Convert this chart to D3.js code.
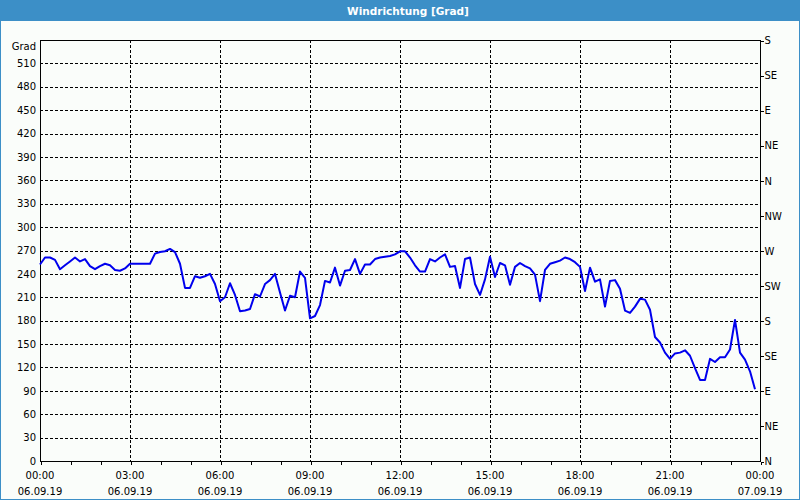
<!DOCTYPE html>
<html>
<head>
<meta charset="utf-8">
<script src="https://cdn.jsdelivr.net/npm/d3@7"></script>
<style>
  html, body { margin: 0; padding: 0; background: #fafdfa; }
  svg { display: block; }
</style>
</head>
<body>
<svg id="chart" width="800" height="500"></svg>
<script>
// ---- data ----
const chartTitle = "Windrichtung [Grad]";
const unitLabel = "Grad";
const startTime = "2019-09-06 00:00";
const endTime = "2019-09-07 00:00";
const stepMinutes = 10;
const windDirection = [
  252,261,261,258,246,251,256,261,256,259,
  250,246,250,253,251,245,244,247,253,253,
  253,253,253,266,268,269,272,268,253,222,
  222,237,235,237,240,227,205,210,228,213,
  192,193,195,214,211,227,232,240,216,193,
  212,210,243,235,183,186,200,231,229,248,
  225,244,245,259,240,252,252,259,261,262,
  263,265,269,269,261,251,243,243,259,256,
  261,265,249,250,222,259,261,227,213,233,
  262,236,254,251,226,249,254,250,247,239,
  205,245,253,255,257,261,259,255,249,218,
  248,230,233,198,231,232,221,193,190,198,
  208,207,194,159,152,139,131,138,139,142,
  135,119,104,104,131,127,133,133,143,181,
  139,130,115,92
];
const leftTicks = [0,30,60,90,120,150,180,210,240,270,300,330,360,390,420,450,480,510];
const rightTickValues = [0,45,90,135,180,225,270,315,360,405,450,495,540];
const rightTickLabels = ["N","NE","E","SE","S","SW","W","NW","N","NE","E","SE","S"];
const yDomain = [0, 540];

// ---- layout ----
const W = 800, H = 500;
const m = { left: 40, right: 760, top: 40, bottom: 461 };
const parse = d3.timeParse("%Y-%m-%d %H:%M");
const t0 = parse(startTime), t1 = parse(endTime);
const points = windDirection.map((v, i) => ({ t: d3.timeMinute.offset(t0, i * stepMinutes), v }));

const x = d3.scaleTime().domain([t0, t1]).range([m.left, m.right]);
const y = d3.scaleLinear().domain(yDomain).range([m.bottom, m.top]);

const svg = d3.select("#chart");
const font = "DejaVu Sans, Verdana, sans-serif";

svg.append("rect").attr("width", W).attr("height", H).attr("fill", "#fafdfa");

// title bar
svg.append("rect").attr("x", 0).attr("y", 0).attr("width", W).attr("height", 21).attr("fill", "#3c8fc7");
svg.append("text").attr("x", 408).attr("y", 14.5).attr("text-anchor", "middle")
  .attr("font-family", font).attr("font-size", 10.5).attr("font-weight", "bold")
  .attr("fill", "#fff").text(chartTitle);
// window border
svg.append("rect").attr("x", 0.5).attr("y", 0.5).attr("width", W - 1).attr("height", H - 1)
  .attr("fill", "none").attr("stroke", "#3c8fc7").attr("stroke-width", 1);

// grid
const grid = svg.append("g").attr("shape-rendering", "crispEdges")
  .attr("stroke", "#000").attr("stroke-dasharray", "3,2").attr("stroke-width", 1);
grid.selectAll("line.h").data(leftTicks.filter(d => d > 0)).join("line")
  .attr("x1", m.left).attr("x2", m.right)
  .attr("y1", d => Math.round(y(d)) + 0.5).attr("y2", d => Math.round(y(d)) + 0.5);
const majorTimes = d3.timeHour.every(3).range(t0, d3.timeMinute.offset(t1, 1));
grid.selectAll("line.v").data(majorTimes.filter(d => +d !== +t0 && +d !== +t1)).join("line")
  .attr("y1", m.top).attr("y2", m.bottom)
  .attr("x1", d => Math.round(x(d)) + 0.5).attr("x2", d => Math.round(x(d)) + 0.5);

// frame
svg.append("rect").attr("x", m.left + 0.5).attr("y", m.top + 0.5)
  .attr("width", m.right - m.left).attr("height", m.bottom - m.top)
  .attr("fill", "none").attr("stroke", "#000").attr("shape-rendering", "crispEdges");

// bottom axis (hourly minor ticks)
const xAxis = d3.axisBottom(x).tickValues(d3.timeHour.every(1).range(t0, d3.timeMinute.offset(t1, 1)))
  .tickSize(3).tickFormat("");
const gx = svg.append("g").attr("transform", `translate(0.5,${m.bottom + 0.5})`).call(xAxis);
gx.select(".domain").remove();
gx.selectAll("line").attr("shape-rendering", "crispEdges").attr("stroke", "#000");

const fmtT = d3.timeFormat("%H:%M"), fmtD = d3.timeFormat("%d.%m.%y");
const lbl = svg.append("g").attr("font-family", font).attr("font-size", 10).attr("fill", "#000")
  .attr("text-anchor", "middle");
lbl.selectAll("text.t").data(majorTimes).join("text")
  .attr("x", d => x(d)).attr("y", 479).text(d => fmtT(d));
lbl.selectAll("text.d").data(majorTimes).join("text")
  .attr("x", d => x(d)).attr("y", 495).text(d => fmtD(d));

// left axis
const yAxis = d3.axisLeft(y).tickValues(leftTicks).tickSize(0).tickPadding(4);
const gy = svg.append("g").attr("transform", `translate(${m.left},0)`).call(yAxis);
gy.select(".domain").remove();
gy.selectAll("text").attr("font-family", font).attr("font-size", 10).attr("fill", "#000");
svg.append("text").attr("x", 36).attr("y", 49.5).attr("text-anchor", "end")
  .attr("font-family", font).attr("font-size", 10).attr("fill", "#000").text(unitLabel);

// right axis
const yRight = d3.axisRight(y).tickValues(rightTickValues).tickSize(3).tickPadding(1)
  .tickFormat((d, i) => rightTickLabels[i]);
const gr = svg.append("g").attr("transform", `translate(${m.right + 0.5},0.5)`).call(yRight);
gr.select(".domain").remove();
gr.selectAll("line").attr("stroke", "#000").attr("shape-rendering", "crispEdges");
gr.selectAll("text").attr("font-family", font).attr("font-size", 10).attr("fill", "#000");

// data line
const line = d3.line().x(d => x(d.t)).y(d => y(d.v));
svg.append("path").datum(points).attr("d", line)
  .attr("fill", "none").attr("stroke", "#0000ee").attr("stroke-width", 2)
  .attr("stroke-linejoin", "round");
</script>
</body>
</html>
